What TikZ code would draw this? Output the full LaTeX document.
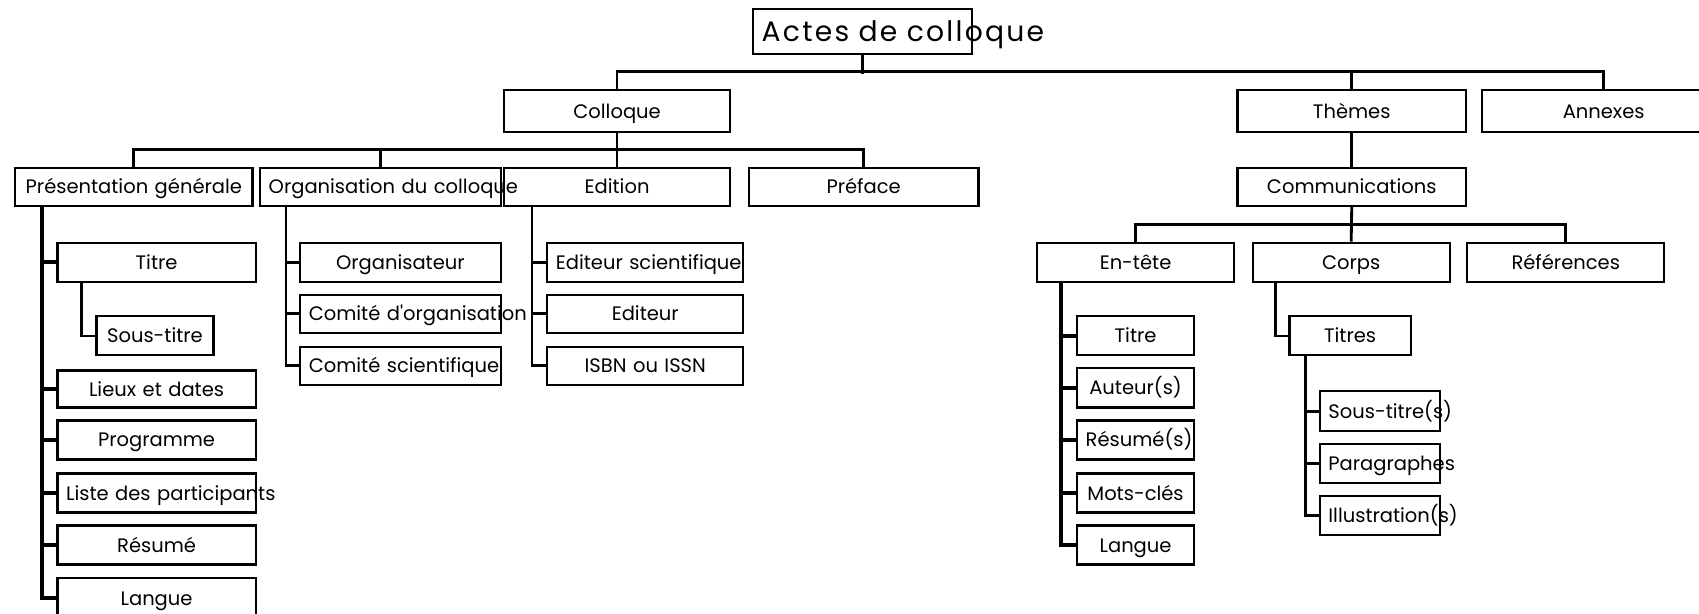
\documentclass[tikz,border=0pt]{standalone}
\usepackage{fontspec}
\setmainfont{Poppins}
\usepackage{tikz}
\usetikzlibrary{calc}

\tikzset{
  boite/.style={draw, line width=2pt, inner xsep=8pt, inner ysep=0pt,
    text width=#1, align=center, font=\fontsize{18}{20}\selectfont,
    text height=15pt, text depth=2pt,
    execute at begin node={\leavevmode\hbox\bgroup},
    execute at end node={\egroup}},
  lien/.style={line width=2.6pt},
  tronc/.style={line width=3.6pt},
}

\begin{document}
\begin{tikzpicture}[x=1pt, y=-1pt]
    \path[use as bounding box, clip] (0,0) rectangle (1568,566);
    % racine
    \node[boite=186pt, minimum height=42pt, text height=20pt, text depth=2pt,
          font=\fontsize{26}{29}\selectfont\addfontfeature{LetterSpace=8}] (actes) at (796,29) {Actes de colloque};
    % premier niveau
    \node[boite=193pt, minimum height=39pt] (colloque) at (569.5,102.5) {Colloque};
    \node[boite=195pt, minimum height=39pt] (themes) at (1247.5,102.5) {Thèmes};
    \node[boite=208pt, minimum height=39pt] (annexes) at (1480,102.5) {Annexes};
    % deuxieme niveau
    \node[boite=203pt, minimum height=35pt] (pres) at (123.5,172.5) {Présentation générale};
    \node[boite=206pt, minimum height=35pt] (orga) at (351,172.5) {Organisation du colloque};
    \node[boite=193pt, minimum height=35pt] (edition) at (569.5,172.5) {Edition};
    \node[boite=196pt, minimum height=35pt] (preface) at (797,172.5) {Préface};
    \node[boite=195pt, minimum height=35pt] (comm) at (1247.5,172.5) {Communications};
    % troisieme niveau
    \node[boite=166pt, minimum height=36pt] (entete) at (1048,242) {En-tête};
    \node[boite=166pt, minimum height=36pt] (corps) at (1247,242) {Corps};
    \node[boite=166pt, minimum height=36pt] (refs) at (1445,242) {Références};
    % presentation generale
    \node[boite=167pt, minimum height=36pt] (titreA) at (144.5,242) {Titre};
    \node[boite=92pt, minimum height=36pt] (soustitre) at (143,310) {Sous-titre};
    \node[boite=167pt, minimum height=34pt] (lieux) at (144.5,359) {Lieux et dates};
    \node[boite=167pt, minimum height=36pt] (programme) at (144.5,406) {Programme};
    \node[boite=167pt, minimum height=36pt] (liste) at (144.5,455) {Liste des participants};
    \node[boite=167pt, minimum height=36pt] (resume) at (144.5,503) {Résumé};
    \node[boite=167pt, minimum height=37pt] (langueA) at (144.5,552) {Langue};
    % organisation
    \node[boite=169pt, minimum height=36pt] (organisateur) at (369.5,242) {Organisateur};
    \node[boite=169pt, minimum height=35pt] (comorg) at (369.5,289.5) {Comité d\textquotesingle organisation};
    \node[boite=169pt, minimum height=35pt] (comsci) at (369.5,337.5) {Comité scientifique};
    % edition
    \node[boite=165pt, minimum height=36pt] (editsci) at (595.5,242) {Editeur scientifique};
    \node[boite=165pt, minimum height=35pt] (editeur) at (595.5,289.5) {Editeur};
    \node[boite=165pt, minimum height=35pt] (isbn) at (595.5,337.5) {ISBN ou ISSN};
    % en-tete
    \node[boite=92pt, minimum height=36pt] (titreB) at (1048,310) {Titre};
    \node[boite=92pt, minimum height=36pt] (auteurs) at (1048,358) {Auteur(s)};
    \node[boite=92pt, minimum height=36pt] (resumes) at (1048,406) {Résumé(s)};
    \node[boite=92pt, minimum height=36pt] (motscles) at (1048,455) {Mots-clés};
    \node[boite=92pt, minimum height=36pt] (langueB) at (1048,503) {Langue};
    % corps
    \node[boite=96pt, minimum height=36pt] (titres) at (1246,310) {Titres};
    \node[boite=95pt, minimum height=37pt] (soustitres) at (1273.5,379.5) {Sous-titre(s)};
    \node[boite=95pt, minimum height=36pt] (paragraphes) at (1273.5,428) {Paragraphes};
    \node[boite=95pt, minimum height=36pt] (illustrations) at (1273.5,476) {Illustration(s)};

    % liens
    \draw[lien] (actes.south) -- ++(0,17);
    \draw[lien] (colloque.north) -- ++(0,-16) -| (annexes.north);
    \draw[lien] (themes.north) -- ++(0,-16);
    \draw[lien] (pres.north) -- ++(0,-16) -| (preface.north);
    \draw[lien] (orga.north) -- ++(0,-16);
    \draw[lien] (colloque.south) -- (edition.north);
    \draw[lien] (themes.south) -- (comm.north);
    \draw[lien] (entete.north) -- ++(0,-16) -| (refs.north);
    \draw[lien] (comm.south) -- (corps.north);
    \foreach \n in {titreA,lieux,programme,liste,resume,langueA}
        \draw[tronc] (pres.south west) ++(26,0) |- (\n.west);
    \draw[lien] (titreA.south west) ++(23,0) |- (soustitre.west);
    \foreach \n in {organisateur,comorg,comsci}
        \draw[lien] (orga.south west) ++(25,0) |- (\n.west);
    \foreach \n in {editsci,editeur,isbn}
        \draw[lien] (edition.south west) ++(27,0) |- (\n.west);
    \foreach \n in {titreB,auteurs,resumes,motscles,langueB}
        \draw[tronc] (entete.south west) ++(23,0) |- (\n.west);
    \draw[lien] (corps.south west) ++(22,0) |- (titres.west);
    \foreach \n in {soustitres,paragraphes,illustrations}
        \draw[lien] (titres.south west) ++(16,0) |- (\n.west);
\end{tikzpicture}
\end{document}
